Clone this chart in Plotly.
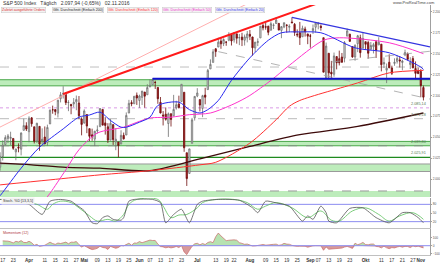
import plotly.graph_objects as go

# ---------------- data ----------------
trade_days = {
    3: [1, 2, 3, 4, 7, 8, 9, 10, 11, 14, 15, 16, 17, 18, 21, 22, 23, 24, 28, 29, 30, 31],
    4: [1, 4, 5, 6, 7, 8, 11, 12, 13, 14, 15, 18, 19, 20, 21, 22, 25, 26, 27, 28, 29],
    5: [2, 3, 4, 5, 6, 9, 10, 11, 12, 13, 16, 17, 18, 19, 20, 23, 24, 25, 26, 27, 31],
    6: [1, 2, 3, 6, 7, 8, 9, 10, 13, 14, 15, 16, 17, 20, 21, 22, 23, 24, 27, 28, 29, 30],
    7: [1, 5, 6, 7, 8, 11, 12, 13, 14, 15, 18, 19, 20, 21, 22, 25, 26, 27, 28, 29],
    8: [1, 2, 3, 4, 5, 8, 9, 10, 11, 12, 15, 16, 17, 18, 19, 22, 23, 24, 25, 26, 29, 30, 31],
    9: [1, 2, 6, 7, 8, 9, 12, 13, 14, 15, 16, 19, 20, 21, 22, 23, 26, 27, 28, 29, 30],
    10: [3, 4, 5, 6, 7, 10, 11, 12, 13, 14, 17, 18, 19, 20, 21, 24, 25, 26, 27, 28, 31],
    11: [1, 2],
}
dates = [f"{m:02d}-{d:02d}" for m, ds in trade_days.items() for d in ds]

opens = [
    1937.09, 1976.60, 1985.60, 1994.01, 1996.11, 1996.05, 1981.44, 1990.97, 1994.71, 2019.27, 2015.27, 2014.24, 2026.90, 2041.16, 2048.55, 2048.64, 2048.55, 2032.48, 2037.89, 2035.75, 2058.27, 2063.77,
    2056.62, 2073.19, 2062.50, 2045.56, 2063.01, 2045.54, 2050.23, 2043.72, 2065.92, 2082.89, 2083.10, 2078.83, 2096.05, 2101.52, 2102.09, 2091.49, 2089.37, 2089.84, 2092.33, 2090.93, 2071.82,
    2067.17, 2077.18, 2060.30, 2052.95, 2047.77, 2057.55, 2062.63, 2083.29, 2067.17, 2062.50, 2046.53, 2065.04, 2044.38, 2044.21, 2041.88, 2052.23, 2052.65, 2078.93, 2091.44, 2090.06, 2100.13,
    2093.94, 2097.71, 2104.07, 2100.83, 2110.18, 2112.71, 2115.65, 2109.57, 2091.75, 2076.65, 2077.60, 2066.36, 2078.20, 2075.58, 2085.19, 2089.75, 2092.80, 2103.81, 2031.45, 2006.67, 2042.69, 2073.17,
    2099.34, 2095.05, 2084.43, 2100.42, 2106.97, 2131.72, 2139.50, 2155.81, 2157.88, 2165.13, 2162.04, 2163.79, 2166.10, 2172.91, 2166.47, 2173.71, 2168.97, 2169.81, 2166.05, 2168.83,
    2173.15, 2169.94, 2156.81, 2163.51, 2168.79, 2183.76, 2182.24, 2182.81, 2177.97, 2183.74, 2186.08, 2186.24, 2177.84, 2181.90, 2184.24, 2181.58, 2187.81, 2185.09, 2173.29, 2175.10, 2170.19, 2179.45, 2173.56,
    2171.33, 2177.49, 2181.61, 2185.17, 2182.76, 2169.08, 2120.86, 2150.47, 2127.86, 2125.36, 2146.48, 2143.99, 2145.94, 2144.58, 2170.94, 2173.29, 2158.54, 2146.04, 2161.85, 2168.90, 2156.51,
    2164.33, 2163.37, 2155.15, 2158.22, 2164.19, 2160.39, 2161.35, 2137.67, 2130.26, 2139.68, 2132.95, 2138.31, 2140.81, 2142.51, 2139.43, 2148.50, 2149.72, 2136.97, 2144.06, 2132.23, 2129.78,
    2128.68, 2109.43,
]
highs = [
    1978.35, 1986.51, 1993.69, 2009.13, 2008.16, 1996.05, 1992.69, 2005.08, 2022.37, 2024.57, 2015.94, 2032.02, 2046.24, 2052.36, 2053.91, 2056.60, 2048.55, 2036.04, 2042.67, 2055.91, 2072.21, 2067.92,
    2075.07, 2074.02, 2062.50, 2067.33, 2063.01, 2060.63, 2062.93, 2065.05, 2083.18, 2087.84, 2083.22, 2094.66, 2104.05, 2111.05, 2103.78, 2094.32, 2089.37, 2096.87, 2099.89, 2099.30, 2073.85,
    2083.42, 2077.18, 2060.30, 2060.23, 2057.72, 2064.15, 2084.87, 2083.29, 2073.99, 2066.79, 2071.88, 2065.69, 2060.61, 2044.21, 2058.35, 2055.58, 2079.67, 2094.73, 2094.30, 2099.06, 2103.48,
    2100.97, 2105.26, 2104.07, 2113.36, 2119.22, 2120.55, 2117.64, 2109.57, 2098.12, 2081.30, 2085.65, 2079.62, 2078.20, 2100.66, 2093.66, 2099.71, 2113.32, 2103.81, 2031.45, 2036.09, 2073.13, 2098.94,
    2108.71, 2095.05, 2100.72, 2109.08, 2131.71, 2143.16, 2155.40, 2156.45, 2168.99, 2169.05, 2168.35, 2164.63, 2175.63, 2174.56, 2175.11, 2173.71, 2173.54, 2174.98, 2172.85, 2177.09,
    2178.29, 2170.20, 2163.79, 2168.19, 2182.87, 2185.44, 2187.66, 2183.41, 2188.45, 2186.28, 2193.81, 2186.24, 2183.08, 2187.03, 2185.00, 2185.15, 2193.42, 2186.66, 2179.00, 2187.94, 2183.48, 2182.27, 2173.79,
    2173.56, 2184.87, 2186.57, 2187.87, 2184.94, 2169.08, 2163.30, 2150.47, 2141.33, 2151.31, 2146.48, 2153.61, 2150.80, 2165.11, 2179.99, 2173.75, 2158.54, 2161.13, 2172.40, 2172.67, 2175.30,
    2164.41, 2165.46, 2163.95, 2162.93, 2165.86, 2169.60, 2161.56, 2145.36, 2138.19, 2149.19, 2135.61, 2144.38, 2148.44, 2147.18, 2142.63, 2154.79, 2151.44, 2145.73, 2147.13, 2140.72, 2133.25,
    2131.45, 2111.76,
]
lows = [
    1937.09, 1968.80, 1977.37, 1986.77, 1991.58, 1977.43, 1979.84, 1969.25, 1994.71, 2012.05, 2005.23, 2010.04, 2022.16, 2041.16, 2043.14, 2040.57, 2034.86, 2022.49, 2031.96, 2028.31, 2058.27, 2057.46,
    2043.98, 2062.57, 2042.56, 2043.09, 2033.80, 2041.69, 2041.88, 2039.74, 2065.92, 2078.13, 2076.31, 2073.65, 2091.68, 2096.32, 2088.52, 2081.20, 2077.52, 2085.80, 2082.31, 2071.62, 2052.28,
    2066.11, 2054.89, 2045.55, 2045.77, 2039.45, 2054.31, 2062.63, 2064.46, 2053.13, 2043.13, 2046.53, 2040.82, 2034.49, 2025.91, 2041.88, 2047.26, 2052.65, 2078.93, 2087.08, 2090.06, 2088.66,
    2085.10, 2088.59, 2085.36, 2100.83, 2110.18, 2112.71, 2107.73, 2089.96, 2078.46, 2064.10, 2069.80, 2050.37, 2062.84, 2075.58, 2083.02, 2084.36, 2092.80, 2032.57, 1991.68, 2006.67, 2042.69, 2070.00,
    2097.90, 2080.86, 2074.02, 2089.39, 2106.97, 2131.72, 2139.50, 2146.21, 2157.88, 2155.79, 2159.07, 2159.40, 2164.89, 2159.75, 2163.24, 2161.95, 2160.18, 2159.07, 2159.74, 2163.49,
    2166.21, 2147.58, 2152.14, 2159.07, 2168.79, 2177.85, 2178.61, 2172.00, 2177.97, 2179.42, 2186.08, 2178.14, 2168.50, 2180.46, 2175.13, 2175.96, 2186.80, 2171.25, 2169.74, 2160.39, 2170.19, 2170.41, 2161.35,
    2157.09, 2173.59, 2175.10, 2179.07, 2177.49, 2127.81, 2119.12, 2120.27, 2119.90, 2122.36, 2131.20, 2135.91, 2139.17, 2139.57, 2170.94, 2163.97, 2145.04, 2141.55, 2151.79, 2145.20, 2156.51,
    2154.77, 2144.01, 2155.15, 2150.28, 2144.85, 2160.39, 2128.84, 2132.77, 2114.72, 2132.98, 2124.43, 2135.49, 2138.15, 2133.44, 2130.09, 2146.91, 2141.93, 2131.59, 2132.52, 2119.36, 2125.53,
    2097.85, 2094.00,
]
closes = [
    1978.35, 1986.45, 1993.40, 1999.99, 2001.76, 1979.26, 1989.26, 1989.57, 2022.19, 2019.64, 2015.93, 2027.22, 2040.59, 2049.58, 2051.60, 2049.80, 2036.71, 2035.94, 2037.05, 2055.01, 2063.95, 2059.74,
    2072.78, 2066.13, 2045.17, 2066.66, 2041.91, 2047.60, 2041.99, 2061.72, 2082.42, 2082.78, 2080.73, 2094.34, 2100.80, 2102.40, 2091.48, 2091.58, 2087.79, 2091.70, 2095.15, 2075.81, 2065.30,
    2081.43, 2063.37, 2051.12, 2050.63, 2057.14, 2058.69, 2084.39, 2064.46, 2064.11, 2046.61, 2066.66, 2047.21, 2047.63, 2040.04, 2052.32, 2048.04, 2076.06, 2090.54, 2090.10, 2099.06, 2096.95,
    2099.33, 2105.26, 2099.13, 2109.41, 2112.13, 2119.12, 2115.48, 2096.07, 2079.06, 2075.32, 2071.50, 2077.99, 2071.22, 2083.25, 2088.90, 2085.45, 2113.32, 2037.41, 2000.54, 2036.09, 2070.77, 2098.86,
    2102.95, 2088.55, 2099.73, 2097.90, 2129.90, 2137.16, 2152.14, 2152.43, 2163.75, 2161.74, 2166.89, 2163.78, 2173.02, 2165.17, 2175.03, 2168.48, 2169.18, 2166.58, 2170.06, 2173.60,
    2170.84, 2157.03, 2163.79, 2164.25, 2182.87, 2180.89, 2181.74, 2175.49, 2185.79, 2184.05, 2190.15, 2178.15, 2182.22, 2187.02, 2183.87, 2182.64, 2186.90, 2175.44, 2172.47, 2169.04, 2180.38, 2176.12, 2170.95,
    2170.86, 2179.98, 2186.48, 2186.16, 2181.30, 2127.81, 2159.04, 2127.02, 2125.77, 2147.26, 2139.16, 2139.12, 2139.76, 2163.12, 2177.18, 2164.69, 2146.10, 2159.93, 2171.37, 2151.13, 2168.27,
    2161.20, 2150.49, 2159.73, 2160.77, 2153.74, 2163.66, 2136.73, 2139.18, 2132.55, 2132.98, 2126.50, 2139.60, 2144.29, 2141.34, 2141.16, 2151.33, 2143.16, 2139.43, 2133.04, 2126.41, 2126.15,
    2111.72, 2097.94,
]
assert len(dates) == len(opens) == len(highs) == len(lows) == len(closes)

# moving averages (sparse)
sma20_dates = ["03-16", "03-17", "03-29", "04-07", "04-20", "04-28", "05-04", "05-10", "05-16", "05-20", "05-24", "06-01", "06-07",
               "06-10", "06-22", "06-28", "07-05", "07-08", "07-14", "07-21", "08-01", "08-10", "08-17", "08-26", "09-08", "09-27", "10-14", "11-01", "11-02"]
sma20_vals = [1980, 1984, 2013, 2038, 2060, 2074, 2076.6, 2080, 2070, 2062, 2062, 2068, 2074,
              2088, 2092, 2083, 2079, 2083, 2094, 2118, 2145, 2166, 2175, 2176, 2175, 2157, 2151, 2134, 2131]
sma50_dates = ["04-11", "04-13", "04-21", "04-28", "05-09", "05-23", "06-01", "06-07", "06-17", "06-28", "07-11", "07-22", "08-01",
               "08-11", "08-22", "09-09", "09-19", "10-14", "11-02"]
sma50_vals = [1975, 1983, 2011, 2035, 2055, 2062, 2069, 2073, 2074, 2077, 2079, 2090, 2100,
              2118, 2136, 2166, 2169, 2163, 2150]
sma120_dates = ["03-16", "04-13", "05-10", "06-07", "07-05", "07-13", "08-01", "08-15", "08-22", "08-26", "09-28", "10-14", "11-02"]
sma120_vals = [1993, 1999, 2005, 2010, 2017, 2020, 2043, 2071, 2087, 2094, 2115, 2127, 2130]
sma200_dates = ["03-16", "04-04", "04-21", "05-10", "06-07", "07-05", "08-01", "08-26", "09-28", "11-02"]
sma200_vals = [2019, 2017, 2014, 2013, 2010, 2024, 2039, 2053, 2063, 2079]

# stochastic (sparse)
stk_dates = ["03-16", "03-23", "03-29", "04-01", "04-08", "04-13", "04-19", "04-25", "04-27", "05-02", "05-05", "05-09", "05-11",
             "05-13", "05-17", "05-20", "05-23", "05-25", "05-27", "06-08", "06-13", "06-15", "06-20", "06-23", "06-28", "07-01",
             "07-06", "07-14", "07-26", "08-02", "08-04", "08-09", "08-15", "08-22", "08-29", "08-31", "09-02", "09-08", "09-12",
             "09-13", "09-16", "09-23", "09-30", "10-07", "10-14", "10-21", "10-26", "10-31", "11-02"]
stk_vals = [97, 97, 86, 80, 45, 91, 97, 91, 78, 58, 16, 13, 34,
            40, 28, 25, 34, 91, 97, 97, 86, 16, 45, 63, 16, 80,
            91, 97, 94, 68, 51, 91, 85, 74, 22, 40, 28, 74, 51,
            22, 16, 66, 68, 34, 16, 51, 51, 34, 16]
std_dates = ["03-16", "03-29", "04-06", "04-12", "04-14", "04-19", "04-25", "04-28", "05-04", "05-09", "05-13", "05-18", "05-23",
             "05-25", "05-31", "06-10", "06-14", "06-17", "06-22", "06-27", "07-01", "07-06", "07-13", "07-22", "07-29", "08-04",
             "08-09", "08-15", "08-23", "08-31", "09-08", "09-14", "09-19", "09-26", "10-03", "10-10", "10-14", "10-20", "10-27", "11-02"]
std_vals = [97, 91, 80, 63, 80, 91, 86, 68, 40, 22, 28, 22, 45,
            80, 97, 97, 74, 34, 43, 45, 68, 86, 97, 97, 86, 63,
            74, 86, 68, 34, 57, 25, 22, 57, 68, 45, 22, 40, 51, 28]

# horizontal levels and drawn trend lines (prices)
band_levels = [(2111.5, 2118.8), (2039.8, 2045.0), (2009.0, 2018.0), (1978.5, 1985.7)]
level_2134 = 2134.0
level_2085 = 2085.14
level_2072 = 2072.18
level_2040 = 2039.80
level_2026 = 2025.91
blue_level = ("06-08", 2120.0)
red_trend = (("04-20", 2101.8), ("08-31", 2206.0))
pink_trend = (("03-16", 2062.2), ("08-03", 2214.4))
blue_trend = (("08-23", 2193.4), ("11-02", 2159.8))
gray_trend_a = (("07-14", 2152.4), ("11-02", 2097.4))
gray_trend_b = (("09-14", 2140.0), ("11-02", 2152.0))

tick_dates = ["03-17", "03-23", "04-01", "04-11", "04-15", "04-21", "04-27", "05-02", "05-09", "05-13", "05-19", "05-25",
              "06-01", "06-07", "06-13", "06-17", "06-23", "07-01", "07-13", "07-19", "07-22", "08-01", "08-09", "08-15",
              "08-19", "08-25", "09-01", "09-07", "09-13", "09-19", "09-23", "10-03", "10-11", "10-17", "10-21", "10-27", "11-01"]
tick_text = ["17", "23", "<b>Apr</b>", "11", "15", "21", "27", "<b>Mai</b>", "09", "13", "19", "25",
             "<b>Jun</b>", "07", "13", "17", "23", "<b>Jul</b>", "13", "19", "22", "<b>Aug</b>", "09", "15",
             "19", "25", "<b>Sep</b>", "07", "13", "19", "23", "<b>Okt</b>", "11", "17", "21", "27", "<b>Nov</b>"]

MOM_N = 12

# ---------------- figure ----------------
PW, PH = 430.0, 255.0
pos = {d: i for i, d in enumerate(dates)}
xs = list(range(len(dates)))
first = pos["03-17"]
x_range = [first - 1.03, first + 162.5]
FONT = "Liberation Sans"


def px(ds):
    return [pos[d] for d in ds]


def ray(p0, p1, extend_left=False):
    (d0, v0), (d1, v1) = p0, p1
    x0, x1 = pos[d0], pos[d1]
    slope = (v1 - v0) / (x1 - x0)
    xe = x_range[1]
    xs_ = [x0, xe]
    ys_ = [v0, v0 + slope * (xe - x0)]
    if extend_left:
        xs_ = [x_range[0]] + xs_
        ys_ = [v0 + slope * (x_range[0] - x0)] + ys_
    return xs_, ys_


fig = go.Figure()

fig.add_trace(go.Candlestick(
    x=xs, open=opens, high=highs, low=lows, close=closes,
    increasing=dict(line=dict(color="#707070", width=0.8), fillcolor="#e4e4e4"),
    decreasing=dict(line=dict(color="#6e0c0c", width=0.8), fillcolor="#a81818"),
    whiskerwidth=0, xaxis="x", yaxis="y", showlegend=False, hoverinfo="skip"))

# moving averages
for ds, vs, col, w in [(sma200_dates, sma200_vals, "#3d0a0a", 1.3),
                       (sma120_dates, sma120_vals, "#ff3030", 1.0),
                       (sma50_dates, sma50_vals, "#ff33cc", 1.0),
                       (sma20_dates, sma20_vals, "#2a2af0", 1.0)]:
    fig.add_trace(go.Scatter(x=px(ds), y=vs, mode="lines", line=dict(color=col, width=w, shape="spline", smoothing=0.8),
                             xaxis="x", yaxis="y", showlegend=False, hoverinfo="skip"))

# trend lines
for p, col, w, dash, left in [(pink_trend, "#ff9a9a", 0.8, "solid", True),
                              (red_trend, "#ff1a1a", 2.0, "solid", False),
                              (blue_trend, "#3535e0", 1.3, "solid", False),
                              (gray_trend_a, "#a0a0a0", 0.8, "dash", False),
                              (gray_trend_b, "#a0a0a0", 0.8, "dash", False)]:
    tx, ty = ray(*p, extend_left=left)
    fig.add_trace(go.Scatter(x=tx, y=ty, mode="lines", line=dict(color=col, width=w, dash=dash),
                             xaxis="x", yaxis="y", showlegend=False, hoverinfo="skip"))

# blue horizontal line
fig.add_trace(go.Scatter(x=[pos[blue_level[0]], x_range[1]], y=[blue_level[1], blue_level[1]], mode="lines",
                         line=dict(color="#1010d0", width=2), xaxis="x", yaxis="y", showlegend=False, hoverinfo="skip"))

# stochastic
fig.add_trace(go.Scatter(x=px(std_dates), y=std_vals, mode="lines", line=dict(color="#5cc05c", width=0.8, shape="spline"),
                         xaxis="x2", yaxis="y2", showlegend=False, hoverinfo="skip"))
fig.add_trace(go.Scatter(x=px(stk_dates), y=stk_vals, mode="lines", line=dict(color="#555555", width=0.8, shape="spline", smoothing=0.6),
                         xaxis="x2", yaxis="y2", showlegend=False, hoverinfo="skip"))

# momentum
mom = [None if i < MOM_N else closes[i] - closes[i - MOM_N] for i in range(len(closes))]
mom_pos = [None if m is None else max(m, 0) for m in mom]
mom_neg = [None if m is None else min(m, 0) for m in mom]
fig.add_trace(go.Scatter(x=xs, y=mom_pos, mode="lines", fill="tozeroy", fillcolor="#b6e2b0", line=dict(width=0),
                         xaxis="x3", yaxis="y3", showlegend=False, hoverinfo="skip"))
fig.add_trace(go.Scatter(x=xs, y=mom_neg, mode="lines", fill="tozeroy", fillcolor="#d89a9a", line=dict(width=0),
                         xaxis="x3", yaxis="y3", showlegend=False, hoverinfo="skip"))
fig.add_trace(go.Scatter(x=xs, y=mom, mode="lines", line=dict(color="#c86a6a", width=0.7),
                         xaxis="x3", yaxis="y3", showlegend=False, hoverinfo="skip"))

shapes = []
for i, (lo, hi) in enumerate(band_levels):
    border = "#4aa84a" if i < 2 else "#9a9a9a"
    shapes.append(dict(type="rect", xref="paper", x0=0, x1=1, yref="y", y0=lo, y1=hi,
                       fillcolor="#bdecbb", line=dict(width=0), layer="below"))
    shapes.append(dict(type="line", xref="paper", x0=0, x1=1, yref="y", y0=hi, y1=hi,
                       line=dict(color=border, width=1, dash="dash" if i == 3 else "solid"), layer="below"))
    if i < 3:
        shapes.append(dict(type="line", xref="paper", x0=0, x1=1, yref="y", y0=lo, y1=lo,
                           line=dict(color=border, width=1), layer="below"))
for lv, col, dash in [(level_2134, "#b0b0b0", "dash"), (level_2085, "#d080e0", "dot"),
                      (level_2072, "#a8a8a8", "dash"), (level_2040, "#8a8a8a", "dash")]:
    shapes.append(dict(type="line", xref="paper", x0=0, x1=1, yref="y", y0=lv, y1=lv,
                       line=dict(color=col, width=0.8, dash=dash), layer="below"))
shapes.append(dict(type="line", xref="paper", x0=0, x1=1, yref="y", y0=level_2026, y1=level_2026,
                   line=dict(color="#1f8a1f", width=1.4), layer="below"))
for lv in (20, 80):
    shapes.append(dict(type="line", xref="paper", x0=0, x1=1, yref="y2", y0=lv, y1=lv,
                       line=dict(color="#8c8cf0", width=1), layer="below"))
shapes.append(dict(type="line", xref="paper", x0=0, x1=1, yref="y3", y0=0, y1=0,
                   line=dict(color="#8c8cf0", width=1), layer="above"))


def py(ypx):
    return (PH - ypx) / PH


annotations = []
annotations.append(dict(text="S&P 500 Index   Täglich   2.097,94 (-0,65%)   02.11.2016", xref="paper", yref="paper",
                        x=0.5 / PW, y=py(3), xanchor="left", yanchor="middle", showarrow=False,
                        font=dict(family=FONT, size=5, color="#333333")))
annotations.append(dict(text="www.ProRealTime.com", xref="paper", yref="paper", x=(437 / PW), y=py(2.5),
                        xanchor="right", yanchor="middle", showarrow=False,
                        font=dict(family=FONT, size=4, color="#444444")))
legend_items = [("Zuletzt ausgeführte Orders", "#e03030", 0),
                ("Gltt. Durchschnitt (Einfach 200)", "#222222", 51),
                ("Gltt. Durchschnitt (Einfach 120)", "#ff3030", 106),
                ("Gltt. Durchschnitt (Einfach 50)", "#ee33cc", 161),
                ("Gltt. Durchschnitt (Einfach 20)", "#3333ee", 214)]
for txt, col, xp in legend_items:
    annotations.append(dict(text=txt, xref="paper", yref="paper", x=(xp + 0.5) / PW, y=py(10), xanchor="left", yanchor="middle",
                            showarrow=False, bgcolor="#f3f3f3", bordercolor="#c8c8c8", borderwidth=0.5, borderpad=0.5,
                            font=dict(family=FONT, size=3.6, color=col)))
for lv, txt in [(level_2085, "2.085,14"), (level_2072, "2.072,18"), (level_2040, "2.039,80"), (level_2026, "2.025,91")]:
    annotations.append(dict(text=txt, xref="paper", yref="y", x=428 / PW, y=lv, xanchor="right", yanchor="bottom",
                            showarrow=False, font=dict(family=FONT, size=3.8, color="#557755")))
annotations.append(dict(text="Stoch. %D [13,3,5]", xref="paper", yref="paper", x=0.5 / PW, y=py(201), xanchor="left",
                        yanchor="middle", showarrow=False, bgcolor="#f3f3f3",
                        font=dict(family=FONT, size=3.6, color="#333333")))
annotations.append(dict(text="Momentum (12)", xref="paper", yref="paper", x=0.5 / PW, y=py(233), xanchor="left",
                        yanchor="middle", showarrow=False,
                        font=dict(family=FONT, size=3.6, color="#b04040")))

axis_common = dict(showgrid=False, zeroline=False)
yaxis_common = dict(showgrid=False, zeroline=False, side="right", showline=True, linecolor="#a0a0a0", linewidth=1,
                    ticks="outside", ticklen=1, tickcolor="#a0a0a0", automargin=False,
                    tickfont=dict(family=FONT, size=3.2, color="#555555"))

fig.update_layout(
    width=440, height=264,
    margin=dict(l=0, r=10, t=0, b=9, autoexpand=False),
    paper_bgcolor="white", plot_bgcolor="white",
    separators=",.",
    showlegend=False,
    xaxis=dict(**axis_common, range=x_range, anchor="y", showticklabels=False, rangeslider=dict(visible=False),
               domain=[0, 1], automargin=False),
    xaxis2=dict(**axis_common, range=x_range, anchor="y2", showticklabels=False, matches="x",
                showline=True, linecolor="#c0c0c0", linewidth=1, automargin=False),
    xaxis3=dict(**axis_common, range=x_range, anchor="y3", matches="x",
                tickvals=px(tick_dates), ticktext=tick_text, tickangle=0, ticks="",
                tickfont=dict(family=FONT, size=4.6, color="#333333"), automargin=False,
                showline=True, linecolor="#c0c0c0", linewidth=1),
    yaxis=dict(**yaxis_common, domain=[py(197), py(5)], range=[1978.5, 2208.2], dtick=25, tickformat=",.0f"),
    yaxis2=dict(**yaxis_common, domain=[py(228), py(198)], range=[-2, 102], tickvals=[20, 50, 80]),
    yaxis3=dict(**yaxis_common, domain=[py(255), py(229)], range=[-120, 215], tickvals=[-100, 0, 100]),
    shapes=shapes,
    annotations=annotations,
)

fig.write_html("out.html")
